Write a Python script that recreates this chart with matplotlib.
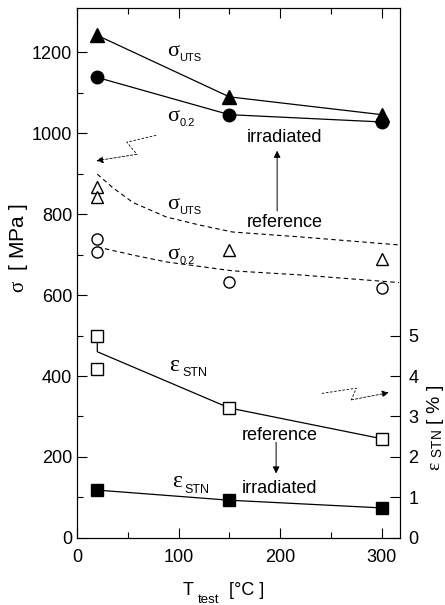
import numpy as np
import matplotlib
matplotlib.use("Agg")
import matplotlib.pyplot as plt

plt.rcParams['font.family'] = ['Liberation Sans', 'DejaVu Sans']
plt.rcParams['mathtext.fontset'] = 'custom'
plt.rcParams['mathtext.rm'] = 'Liberation Sans'
plt.rcParams['mathtext.it'] = 'Liberation Serif'
plt.rcParams['mathtext.sf'] = 'Liberation Sans'

# ---- data ----
T_irr = [20, 150, 300]
uts_irr = [1242, 1090, 1046]
y02_irr = [1138, 1046, 1028]

# reference (unirradiated) single points
T_ref_uts = [20, 20, 150, 300]
uts_ref = [866, 842, 711, 690]
T_ref_02 = [20, 20, 150, 300]
y02_ref = [738, 707, 633, 617]

# dashed trend curves of the reference data
T_curve_uts = [20, 35, 55, 88, 121, 153, 219, 317]
uts_curve = [899, 866, 829, 793, 773, 756, 744, 724]
T_curve_02 = [20, 55, 88, 153, 219, 317]
y02_curve = [719, 699, 682, 660, 650, 631]

# uniform elongation [%] (right axis)
T_eps_ref = [20, 20, 150, 300]
eps_ref = [5.0, 4.18, 3.21, 2.45]
T_eps_line = [20, 20, 150, 300]
eps_line = [5.0, 4.6, 3.21, 2.45]
T_eps_irr = [20, 150, 300]
eps_irr = [1.18, 0.93, 0.74]

# zigzag pointers (data coords of left axis)
zig_left_x = [78, 49, 59, 19]
zig_left_y = [995, 978, 948, 932]
zig_right_x = [241, 275, 270, 307]
zig_right_y = [357, 370, 341, 359]

fig = plt.figure(figsize=(4.45, 6.05), dpi=100)
ax = fig.add_axes([0.173, 0.111, 0.726, 0.876])
ax2 = ax.twinx()


def sym_label(x, y, sym, sub, fs, fs_sub, dx, dy):
    # greek symbol in serif with a small sans subscript next to it
    ax.text(x, y, sym, fontsize=fs, family='Liberation Serif', va='baseline')
    ax.annotate(sub, (x, y), xytext=(dx, dy), textcoords='offset points',
                fontsize=fs_sub, va='baseline')


# irradiated strength
ax.plot(T_irr, uts_irr, '-', color='k', lw=0.9, marker='^', ms=10, zorder=3)
ax.plot(T_irr, y02_irr, '-', color='k', lw=0.9, marker='o', ms=9, zorder=3)

# reference strength
ax.plot(T_curve_uts, uts_curve, '--', color='k', lw=0.8, dashes=(4, 3))
ax.plot(T_curve_02, y02_curve, '--', color='k', lw=0.8, dashes=(4, 3))
ax.plot(T_ref_uts, uts_ref, '^', mfc='white', mec='k', mew=1.0, ms=8, ls='none')
ax.plot(T_ref_02, y02_ref, 'o', mfc='white', mec='k', mew=1.0, ms=8, ls='none')

# elongation on right axis
ax2.plot(T_eps_line, eps_line, '-', color='k', lw=0.9)
ax2.plot(T_eps_ref, eps_ref, 's', mfc='white', mec='k', mew=1.0, ms=8, ls='none', zorder=3)
ax2.plot(T_eps_irr, eps_irr, '-', color='k', lw=0.9, marker='s', ms=8, zorder=3)

# zigzag pointers
ax.plot(zig_left_x[:3], zig_left_y[:3], '-', color='k', lw=0.6, dashes=(3, 2))
ax.annotate('', xy=(zig_left_x[3], zig_left_y[3]), xytext=(zig_left_x[2], zig_left_y[2]),
            arrowprops=dict(arrowstyle='-|>', color='k', lw=0.6, ls=(0, (3, 2)),
                            mutation_scale=10, shrinkA=0, shrinkB=0))
ax.plot(zig_right_x[:3], zig_right_y[:3], '-', color='k', lw=0.6, dashes=(3, 2))
ax.annotate('', xy=(zig_right_x[3], zig_right_y[3]), xytext=(zig_right_x[2], zig_right_y[2]),
            arrowprops=dict(arrowstyle='-|>', color='k', lw=0.6, ls=(0, (3, 2)),
                            mutation_scale=10, shrinkA=0, shrinkB=0))

# vertical arrows
ax.annotate('', xy=(197, 957), xytext=(197, 808),
            arrowprops=dict(arrowstyle='-|>', color='k', lw=0.7, mutation_scale=10,
                            shrinkA=0, shrinkB=0))
ax.annotate('', xy=(196, 159), xytext=(196, 236),
            arrowprops=dict(arrowstyle='-|>', color='k', lw=0.7, mutation_scale=10,
                            shrinkA=0, shrinkB=0))

# text labels
sym_label(89, 1190, 'σ', 'UTS', 16, 8, 8.5, -3.5)
sym_label(89, 1031, 'σ', '0.2', 16, 8, 8.5, -3.5)
sym_label(89, 812, 'σ', 'UTS', 16, 8, 8.5, -3.5)
sym_label(89, 690, 'σ', '0.2', 16, 8, 8.5, -3.5)
sym_label(91, 412, 'ε', 'STN', 17, 9, 9.5, -3.5)
sym_label(94, 125, 'ε', 'STN', 17, 9, 8.5, -4)
ax.text(167, 990, 'irradiated', fontsize=13, va='center')
ax.text(167, 780, 'reference', fontsize=13, va='center')
ax.text(162, 253, 'reference', fontsize=13, va='center')
ax.text(162, 123, 'irradiated', fontsize=13, va='center')

# axes
ax.set_xlim(0, 318)
ax.set_ylim(0, 1310)
ax2.set_ylim(0, 13.1)
ax.set_xticks([0, 100, 200, 300])
ax.set_xticks([50, 150, 250], minor=True)
ax.set_yticks([0, 200, 400, 600, 800, 1000, 1200])
ax.set_yticks(np.arange(100, 1300, 200), minor=True)
ax2.set_yticks([0, 1, 2, 3, 4, 5])
ax.tick_params(which='both', direction='in', top=True, labelsize=13, width=0.8)
ax.tick_params(which='major', length=7)
ax.tick_params(which='minor', length=4)
ax.tick_params(axis='x', pad=8)
ax2.tick_params(direction='in', length=7, labelsize=13, width=0.8, pad=6)

for a in (ax, ax2):
    for s in a.spines.values():
        s.set_linewidth(0.8)

# x label built from pieces (large T, low subscript)
fig.text(183 / 445, 1 - 595 / 605, 'T', fontsize=13, va='baseline')
fig.text(198 / 445, 1 - 603 / 605, 'test', fontsize=9.5, va='baseline')
fig.text(229 / 445, 1 - 595 / 605, '[°C ]', fontsize=13, va='baseline')

fig.text(19 / 445, 1 - 248 / 605, r'$\sigma$  [ MPa ]', fontsize=15,
         rotation=90, ha='center', va='center')
fig.text(435 / 445, 1 - 428 / 605, r'$\varepsilon$ $_{\rm STN}$ [ % ]', fontsize=14,
         rotation=90, ha='center', va='center')

fig.savefig('out.png', dpi=100)
